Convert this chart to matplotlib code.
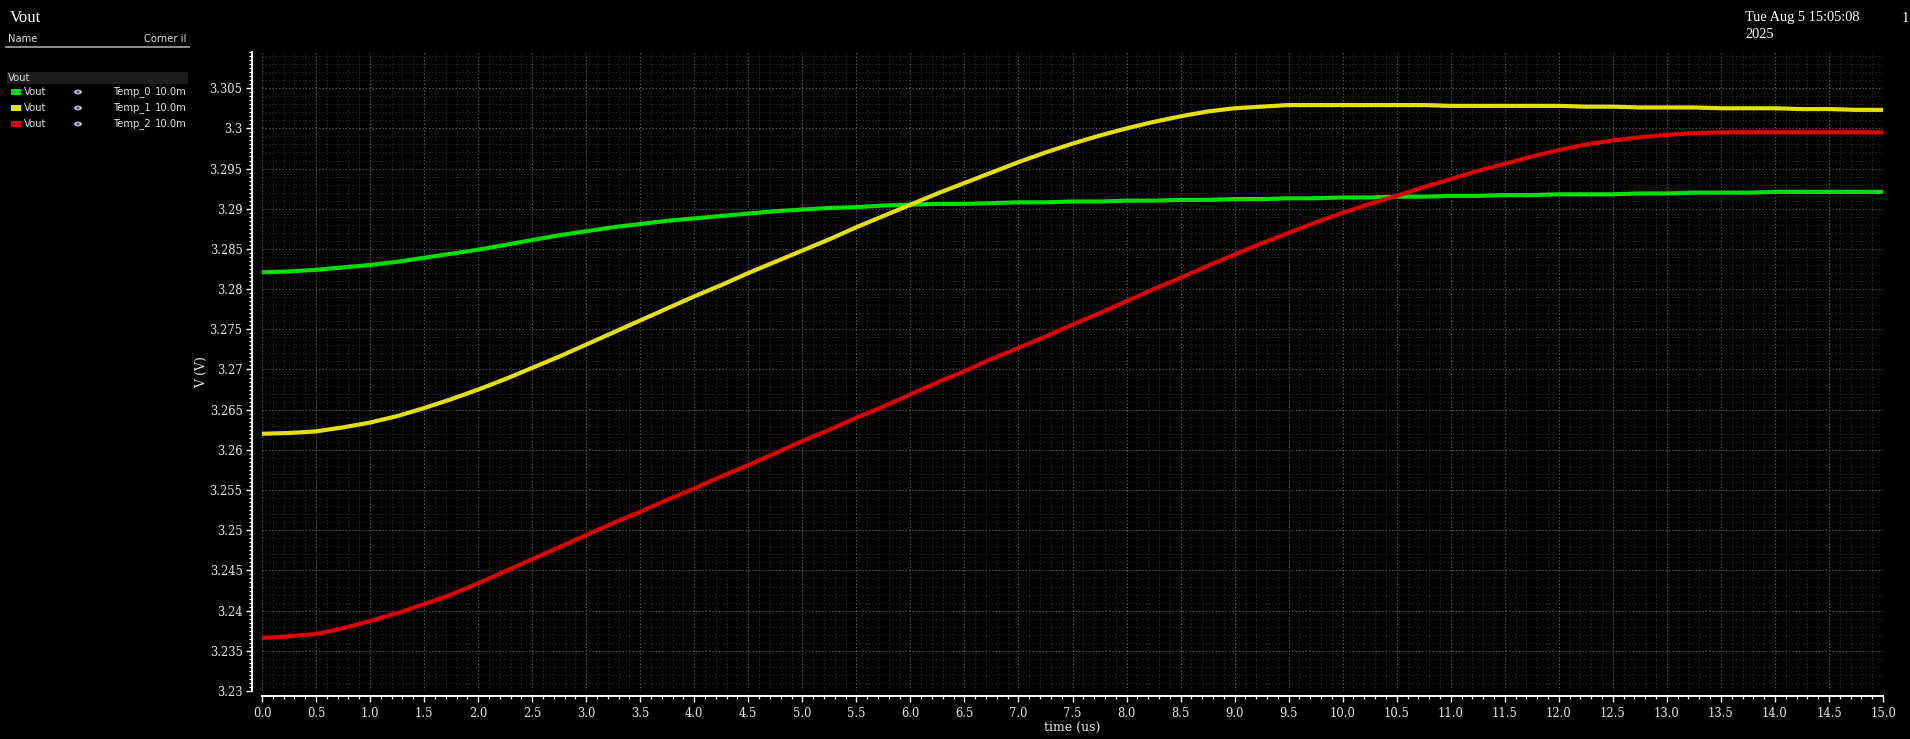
import numpy as np
import matplotlib
matplotlib.use("Agg")
import matplotlib.pyplot as plt
from matplotlib.ticker import MultipleLocator, FuncFormatter
from matplotlib.patches import Rectangle, Ellipse

W = 1910
H = 739

# time axis (us), read every 0.25 us
t = [0.0, 0.25, 0.5, 0.75, 1.0, 1.25, 1.5, 1.75, 2.0, 2.25, 2.5, 2.75,
     3.0, 3.25, 3.5, 3.75, 4.0, 4.25, 4.5, 4.75, 5.0, 5.25, 5.5, 5.75,
     6.0, 6.25, 6.5, 6.75, 7.0, 7.25, 7.5, 7.75, 8.0, 8.25, 8.5, 8.75,
     9.0, 9.25, 9.5, 9.75, 10.0, 10.25, 10.5, 10.75, 11.0, 11.25, 11.5, 11.75,
     12.0, 12.25, 12.5, 12.75, 13.0, 13.25, 13.5, 13.75, 14.0, 14.25, 14.5, 14.75,
     15.0]

# Temp_0 (green)
v_temp0 = [3.2821, 3.2822, 3.2824, 3.2827, 3.2830, 3.2834, 3.2839, 3.2844, 3.2849, 3.2855, 3.2861, 3.2867,
           3.2872, 3.2877, 3.2881, 3.2885, 3.2888, 3.2891, 3.2894, 3.2897, 3.2899, 3.2901, 3.2902, 3.2904,
           3.2905, 3.2906, 3.2906, 3.2907, 3.2908, 3.2908, 3.2909, 3.2909, 3.2910, 3.2910, 3.2911, 3.2911,
           3.2912, 3.2912, 3.2913, 3.2913, 3.2914, 3.2914, 3.2915, 3.2915, 3.2916, 3.2916, 3.2917, 3.2917,
           3.2918, 3.2918, 3.2918, 3.2919, 3.2919, 3.2920, 3.2920, 3.2920, 3.2921, 3.2921, 3.2921, 3.2921,
           3.2921]

# Temp_1 (yellow)
v_temp1 = [3.2620, 3.2621, 3.2623, 3.2628, 3.2634, 3.2642, 3.2652, 3.2663, 3.2675, 3.2688, 3.2702, 3.2716,
           3.2731, 3.2746, 3.2761, 3.2776, 3.2791, 3.2805, 3.2820, 3.2834, 3.2848, 3.2862, 3.2877, 3.2891,
           3.2905, 3.2919, 3.2932, 3.2945, 3.2958, 3.2970, 3.2981, 3.2991, 3.3000, 3.3008, 3.3015, 3.3021,
           3.3025, 3.3027, 3.3029, 3.3029, 3.3029, 3.3029, 3.3029, 3.3029, 3.3028, 3.3028, 3.3028, 3.3028,
           3.3028, 3.3027, 3.3027, 3.3026, 3.3026, 3.3026, 3.3025, 3.3025, 3.3025, 3.3024, 3.3024, 3.3023,
           3.3023]

# Temp_2 (red)
v_temp2 = [3.2366, 3.2368, 3.2371, 3.2378, 3.2387, 3.2397, 3.2408, 3.2420, 3.2434, 3.2449, 3.2464, 3.2479,
           3.2494, 3.2509, 3.2523, 3.2538, 3.2552, 3.2567, 3.2581, 3.2596, 3.2611, 3.2625, 3.2640, 3.2654,
           3.2669, 3.2684, 3.2698, 3.2713, 3.2727, 3.2741, 3.2756, 3.2770, 3.2785, 3.2800, 3.2814, 3.2829,
           3.2843, 3.2857, 3.2870, 3.2883, 3.2895, 3.2906, 3.2916, 3.2927, 3.2937, 3.2947, 3.2956, 3.2965,
           3.2973, 3.2980, 3.2985, 3.2989, 3.2992, 3.2994, 3.2995, 3.2995, 3.2995, 3.2995, 3.2995, 3.2995,
           3.2995]

series_names = ["Temp_0", "Temp_1", "Temp_2"]
series_colors = ["#00e000", "#e6e000", "#e00000"]
series_vals = [v_temp0, v_temp1, v_temp2]
corner_val = "10.0m"


def px(x, y):
    # pixel position -> figure fraction
    return x / W, 1 - y / H


fig = plt.figure(figsize=(W / 100, H / 100), dpi=100, facecolor="black")

left, top = px(262, 52)
right, bottom = px(1883, 691)
ax = fig.add_axes([left, bottom, right - left, top - bottom])
ax.set_facecolor("black")

for vals, col in zip(series_vals, series_colors):
    ax.plot(t, vals, color=col, lw=3.0, solid_capstyle="butt", solid_joinstyle="round", zorder=3)

ax.set_xlim(0, 15)
ax.set_ylim(3.23, 3.3095)

ax.xaxis.set_major_locator(MultipleLocator(0.5))
ax.xaxis.set_minor_locator(MultipleLocator(0.1))
ax.yaxis.set_major_locator(MultipleLocator(0.005))
ax.yaxis.set_minor_locator(MultipleLocator(0.0005))

ax.xaxis.set_major_formatter(FuncFormatter(lambda v, p: "%.1f" % v))
ax.yaxis.set_major_formatter(FuncFormatter(lambda v, p: ("%.3f" % v).rstrip("0").rstrip(".")))

# grid: major and minor dotted
ax.grid(which="major", color="#5c5c5c", linestyle=(0, (1, 2)), lw=0.8, zorder=1)
ax.set_axisbelow(True)
for xv in np.arange(0, 15.01, 0.1):
    ax.axvline(xv, color="#303030", linestyle=(0, (1, 2)), lw=0.8, zorder=0)
for yv in np.arange(3.23, 3.3095, 0.001):
    ax.axhline(yv, color="#303030", linestyle=(0, (1, 2)), lw=0.8, zorder=0)

for s in ["top", "right"]:
    ax.spines[s].set_visible(False)
ax.spines["left"].set_position(("outward", 7))
ax.spines["bottom"].set_position(("outward", 3.5))
ax.spines["left"].set_color("white")
ax.spines["bottom"].set_color("white")
ax.spines["left"].set_linewidth(1.4)
ax.spines["bottom"].set_linewidth(1.4)

ax.tick_params(which="major", direction="out", length=4, width=1.0, color="white")
ax.tick_params(which="minor", direction="out", length=2.4, width=0.9, color="white")
ax.tick_params(axis="x", which="major", pad=4, labelsize=8.3, labelcolor="#e6e6e6")
ax.tick_params(axis="y", which="major", pad=3, labelsize=8.3, labelcolor="#e6e6e6")
for lab in ax.get_xticklabels() + ax.get_yticklabels():
    lab.set_family("DejaVu Serif")

fig.text(*px(1072, 727), "time (us)", color="#e6e6e6", fontsize=9,
         family="DejaVu Serif", ha="center", va="center")
fig.text(*px(202, 372), "V (V)", color="#e6e6e6", fontsize=9,
         family="DejaVu Serif", ha="center", va="center", rotation=90)

# title and date
fig.text(*px(10, 18), "Vout", color="white", fontsize=12, family="Liberation Serif",
         ha="left", va="center")
fig.text(*px(1745, 18), "Tue Aug 5 15:05:08", color="white", fontsize=10.4,
         family="Liberation Serif", ha="left", va="center")
fig.text(*px(1745, 34), "2025", color="white", fontsize=10.4,
         family="Liberation Serif", ha="left", va="center")
fig.text(*px(1902, 18), "1", color="white", fontsize=10.4,
         family="Liberation Serif", ha="left", va="center")

# legend side panel
fig.text(*px(8, 39), "Name", color="#dddddd", fontsize=7.2, ha="left", va="center")
fig.text(*px(186, 39), "Corner il", color="#dddddd", fontsize=7.2, ha="right", va="center")
fig.add_artist(Rectangle(px(5, 48), 185 / W, 2 / H, transform=fig.transFigure,
                         color="#8a8a8a", lw=0))
fig.add_artist(Rectangle(px(7, 84), 181 / W, 12 / H, transform=fig.transFigure,
                         color="#1c1c1c", lw=0))
fig.text(*px(8, 78), "Vout", color="#dddddd", fontsize=7.2, ha="left", va="center")

row_y = [92, 108, 124]
for name, col, yy in zip(series_names, series_colors, row_y):
    fig.add_artist(Rectangle(px(11, yy + 3), 10 / W, 6 / H, transform=fig.transFigure,
                             color=col, lw=0))
    fig.text(*px(24, yy), "Vout", color="#dddddd", fontsize=7.2, ha="left", va="center")
    fig.add_artist(Ellipse(px(78, yy), 8 / W, 5 / H, transform=fig.transFigure,
                           color="#aebdd0", lw=0))
    fig.add_artist(Ellipse(px(78, yy), 3 / W, 3 / H, transform=fig.transFigure,
                           color="#55606e", lw=0))
    fig.text(*px(113, yy), name, color="#dddddd", fontsize=7.2, ha="left", va="center")
    fig.text(*px(155, yy), corner_val, color="#dddddd", fontsize=7.2, ha="left", va="center")

fig.savefig("out.png", dpi=100, facecolor="black")
